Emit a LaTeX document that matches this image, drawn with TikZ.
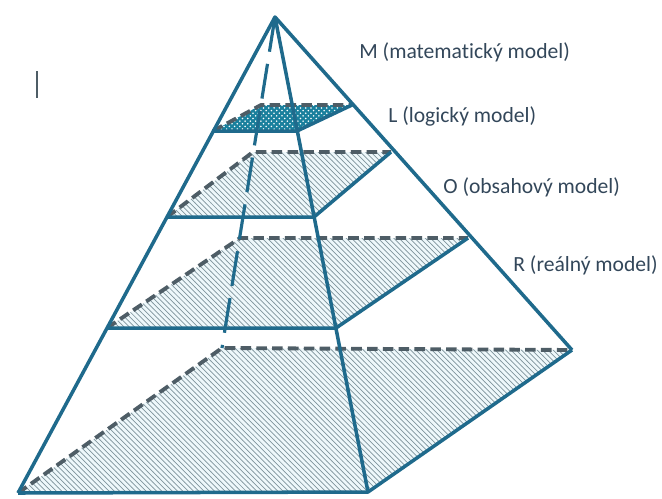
\documentclass[tikz,border=0pt]{standalone}
\usepackage{fontspec}
\setmainfont{Carlito}[Ligatures=NoCommon]
\usetikzlibrary{patterns}
\definecolor{pyedge}{HTML}{1F6A8C}
\definecolor{pydash}{HTML}{4E5D66}
\definecolor{pyhatch}{HTML}{7F949C}
\definecolor{pyfill}{HTML}{EEF8FB}
\definecolor{pytext}{HTML}{33475A}
\begin{document}
\begin{tikzpicture}[x=0.02cm, y=-0.02cm, line join=round,
    edge/.style={draw=pyedge, line width=2pt},
    backedge/.style={draw=pydash, line width=2.2pt, dash pattern=on 6pt off 3pt},
    hidden/.style={draw=pyedge, line width=1.8pt, dash pattern=on 20pt off 7pt},
    hatch/.style={fill=pyfill, postaction={pattern=north west lines, pattern color=pyhatch}},
    dotted fill/.style={fill=pyedge!85!cyan, postaction={pattern=crosshatch dots, pattern color=white}},
    lbl/.style={anchor=base west, inner sep=0pt, text=pytext, font=\fontsize{12.3}{14}\selectfont}]
  \useasboundingbox (0,0) rectangle (662,498);
  % apex and base
  \coordinate (top) at (275,17);
  \coordinate (b1) at (18,493);  \coordinate (b2) at (368,492);
  \coordinate (b3) at (572,350); \coordinate (b4) at (222,348);
  % R slice
  \coordinate (r1) at (107,328); \coordinate (r2) at (336,328);
  \coordinate (r3) at (468,238); \coordinate (r4) at (240,238);
  % O slice
  \coordinate (o1) at (167,217); \coordinate (o2) at (314,217);
  \coordinate (o3) at (391,152); \coordinate (o4) at (253,152);
  % L slice
  \coordinate (l1) at (213,131); \coordinate (l2) at (297,131);
  \coordinate (l3) at (352,105); \coordinate (l4) at (261,105);

  % shaded planes
  \fill[hatch] (b1) -- (b2) -- (b3) -- (b4) -- cycle;
  \fill[hatch] (r1) -- (r2) -- (r3) -- (r4) -- cycle;
  \fill[hatch] (o1) -- (o2) -- (o3) -- (o4) -- cycle;
  \fill[dotted fill] (l1) -- (l2) -- (l3) -- (l4) -- cycle;

  % hidden edges
  \foreach \s in {b,r,o,l}
    \draw[backedge] (\s1) -- (\s4) -- (\s3);
  \draw[hidden] (top) -- (b4);

  % visible edges
  \foreach \s in {b,r,o,l}
    \draw[edge] (\s1) -- (\s2) -- (\s3);
  \draw[edge] (b1) -- (top) -- (b3);
  \draw[edge] (top) -- (b2);

  \node[lbl] (labM) at (359,58) {M (matematický model)};
  \node[lbl] (labL) at (388,122) {L (logický model)};
  \node[lbl] (labO) at (443,193) {O (obsahový model)};
  \node[lbl] (labR) at (513,271) {R (reálný model)};

  \draw[pydash, line width=0.8pt] (37,71) -- (37,98);
\end{tikzpicture}
\end{document}
